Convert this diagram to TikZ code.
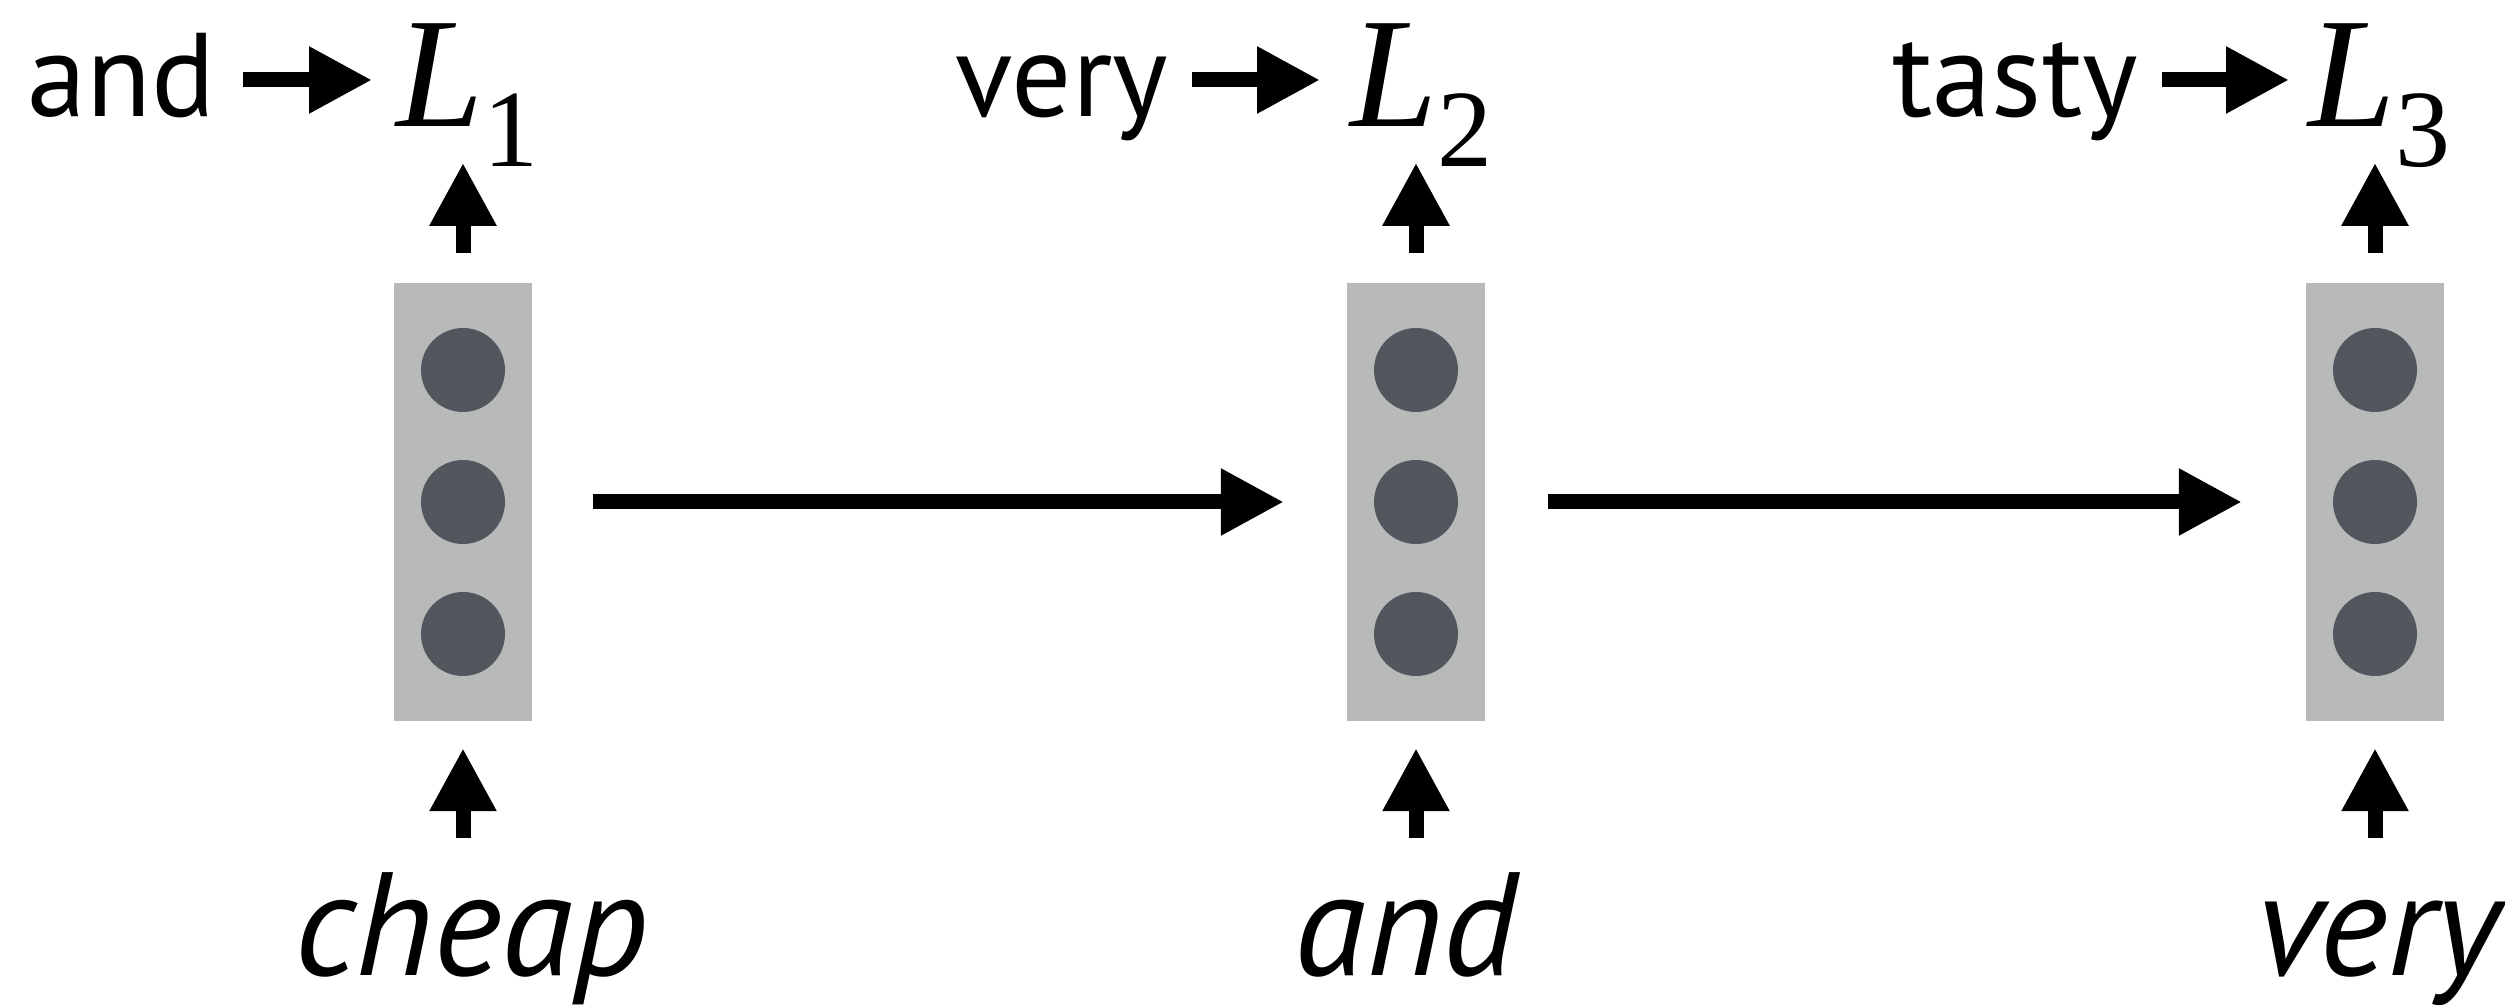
\documentclass[tikz,border=0pt]{standalone}
\usepackage{fontspec}
\setmainfont{PT Sans}
\newfontfamily\Lfont{Liberation Serif}
\usetikzlibrary{arrows.meta}
\definecolor{boxgray}{RGB}{183,186,185}
\definecolor{dotgray}{RGB}{82,87,94}
\newcommand{\lossL}[1]{{\Lfont\fontsize{157}{157}\selectfont\itshape L}\raisebox{-40pt}{\Lfont\fontsize{110}{110}\selectfont #1}}
\begin{document}
\begin{tikzpicture}[x=1pt,y=1pt,
  arr/.style={line width=15pt,-{Triangle[width=63pt,length=63pt]}},
  vecbox/.style={fill=boxgray,draw=none,minimum width=138pt,minimum height=438pt,inner sep=0pt},
  unit/.style={circle,fill=dotgray,draw=none,minimum size=84pt,inner sep=0pt},
  outword/.style={font=\fontsize{119}{119}\selectfont,inner sep=0pt,anchor=base east},
  inword/.style={font=\fontsize{147}{147}\selectfont\itshape,inner sep=0pt,anchor=base},
  lossnode/.style={inner sep=0pt,anchor=base west}]
\useasboundingbox (0,0) rectangle (2505,1006);
\clip (0,0) rectangle (2505,1006);
% vectors
\foreach \i/\x in {1/463,2/1416,3/2375}{
  \node[vecbox] (b\i) at (\x,504) {};
  \foreach \j/\dy in {1/132,2/0,3/-132}
    \node[unit] (c\i\j) at (\x,504+\dy) {};
  \coordinate (t\i) at ([yshift=120pt]b\i.north);
  \coordinate (s\i) at ([yshift=-117pt]b\i.south);
  \draw[arr] ([yshift=30pt]b\i.north) -- (t\i);
  \draw[arr] (s\i) -- ([yshift=-27pt]b\i.south);
}
% recurrent arrows
\draw[arr,shorten <=61pt,shorten >=63pt] (b1.east) -- (b2.west);
\draw[arr,shorten <=63pt,shorten >=64pt] (b2.east) -- (b3.west);
% inputs
\node[inword] (x1) at (471,30) {cheap};
\node[inword] (x2) at (1406,30) {and};
\node[inword] (x3) at (2378,30) {very};
% outputs
\node[outword] (w1) at (216,889) {and};
\node[outword] (w2) at (1168,889) {very};
\node[outword] (w3) at (2138,889) {tasty};
\node[lossnode] (L1) at (396,879) {\lossL{1}};
\node[lossnode] (L2) at (1350,879) {\lossL{2}};
\node[lossnode] (L3) at (2308,879) {\lossL{3}};
\draw[arr] ([xshift=27pt,yshift=37pt]w1.base east) -- ([xshift=-24pt,yshift=47pt]L1.base west);
\draw[arr] ([xshift=24pt,yshift=37pt]w2.base east) -- ([xshift=-30pt,yshift=47pt]L2.base west);
\draw[arr] ([xshift=24pt,yshift=37pt]w3.base east) -- ([xshift=-19pt,yshift=47pt]L3.base west);
\end{tikzpicture}
\end{document}
